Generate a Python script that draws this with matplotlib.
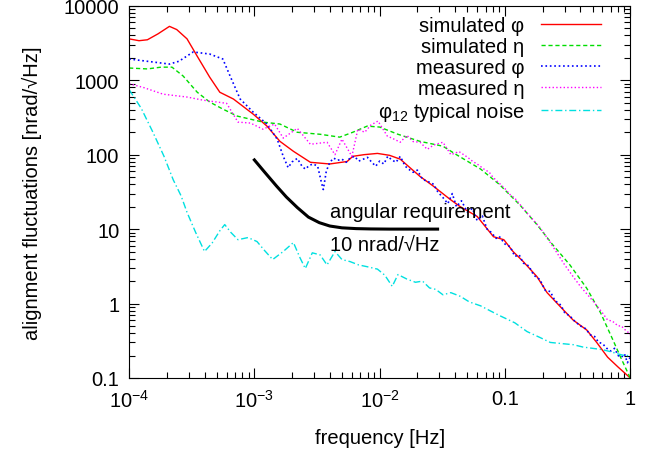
import numpy as np
import matplotlib
matplotlib.use("Agg")
import matplotlib.pyplot as plt
from matplotlib.ticker import LogLocator, FixedLocator, FixedFormatter, NullFormatter

plt.rcParams['font.family'] = ['Liberation Sans', 'DejaVu Sans']
plt.rcParams['mathtext.fontset'] = 'custom'
plt.rcParams['mathtext.rm'] = 'Liberation Sans'
plt.rcParams['mathtext.it'] = 'Liberation Sans'
plt.rcParams['mathtext.default'] = 'regular'

FS = 14.5

# simulated phi
f_sphi = [1.0e-4, 1.2e-4, 1.4e-4, 1.7e-4, 2.1e-4, 2.4e-4, 2.9e-4, 3.5e-4, 4.4e-4, 5.3e-4,
          6.8e-4, 9.8e-4, 1.26e-3, 1.6e-3, 2.05e-3, 2.8e-3, 4.0e-3, 5.5e-3, 6.1e-3, 7.5e-3,
          9.6e-3, 1.2e-2, 1.46e-2, 2.1e-2, 2.67e-2, 3.66e-2, 4.4e-2, 6.0e-2, 8.1e-2, 9.8e-2,
          0.116, 0.14, 0.18, 0.217, 0.276, 0.35, 0.45, 0.54, 0.66, 0.8, 1.0]
y_sphi = [3600, 3400, 3500, 4200, 5300, 4800, 3600, 2100, 1100, 690,
          560, 350, 242, 151, 111, 79, 75, 81, 95, 100,
          104, 98, 87, 51, 38, 25, 20, 14.8, 7.9, 7.2,
          5.0, 3.66, 2.3, 1.4, 0.91, 0.6, 0.44, 0.3, 0.19, 0.14, 0.1]

# simulated eta
f_seta = [1.0e-4, 1.4e-4, 1.8e-4, 2.2e-4, 2.7e-4, 3.5e-4, 4.4e-4, 5.6e-4, 7.3e-4, 1.17e-3,
          1.6e-3, 2.2e-3, 3.35e-3, 4.8e-3, 6.1e-3, 7.95e-3, 1.0e-2, 1.4e-2, 2.1e-2, 3.2e-2,
          4.1e-2, 6.4e-2, 9.0e-2, 0.132, 0.18, 0.24, 0.33, 0.45, 0.58, 0.73, 0.85, 1.0]
y_seta = [1460, 1420, 1500, 1500, 1140, 690, 510, 410, 330, 274,
          258, 200, 188, 172, 200, 242, 235, 188, 151, 130,
          100, 64, 40, 21, 11.5, 6.2, 3.3, 1.6, 0.75, 0.32, 0.18, 0.1]

# measured phi
f_mphi = [1.0e-4, 1.55e-4, 2.1e-4, 2.5e-4, 3.25e-4, 4.4e-4, 5.6e-4, 6.4e-4, 7.7e-4, 9.8e-4,
          1.26e-3, 1.52e-3, 1.7e-3, 1.86e-3, 2.0e-3, 2.2e-3, 2.4e-3, 2.55e-3, 2.75e-3, 2.95e-3,
          3.2e-3, 3.4e-3, 3.55e-3, 3.75e-3, 4.0e-3, 4.3e-3, 4.6e-3, 5.0e-3, 5.4e-3, 5.8e-3,
          6.3e-3, 6.8e-3, 7.4e-3, 8.0e-3, 8.6e-3, 9.3e-3, 1.0e-2, 1.08e-2, 1.16e-2, 1.25e-2,
          1.35e-2, 1.46e-2, 1.6e-2, 1.7e-2, 1.85e-2, 2.0e-2, 2.2e-2, 2.4e-2, 2.7e-2, 2.9e-2,
          3.2e-2, 3.5e-2, 3.8e-2, 4.1e-2, 4.5e-2, 5.0e-2, 5.5e-2, 6.0e-2, 6.6e-2, 7.2e-2,
          7.8e-2, 8.5e-2, 9.0e-2, 0.1, 0.11, 0.12, 0.13, 0.14, 0.155, 0.17,
          0.19, 0.21, 0.23, 0.25, 0.28, 0.3, 0.33, 0.36, 0.4, 0.44,
          0.48, 0.52, 0.56, 0.6, 0.65, 0.7, 0.75, 0.8, 0.85, 0.9,
          0.95, 1.0]
y_mphi = [1930, 1760, 1650, 1800, 2400, 2250, 1930, 1140, 560, 372,
          258, 162, 95, 67, 80, 89, 70, 64, 72, 75,
          70, 45, 34, 60, 79, 90, 84, 87, 79, 90,
          95, 82, 87, 92, 80, 70, 82, 75, 95, 85,
          79, 95, 70, 64, 58, 62, 46.5, 44, 40, 32,
          26.5, 22, 30, 20, 24, 17, 19, 13, 15, 10,
          9.0, 7.5, 8.0, 6.3, 5.8, 4.3, 4.5, 3.5, 3.2, 2.4,
          2.1, 1.5, 1.45, 1.1, 0.95, 0.75, 0.68, 0.58, 0.5, 0.46,
          0.38, 0.36, 0.3, 0.29, 0.25, 0.23, 0.25, 0.2, 0.19, 0.21,
          0.16, 0.19]

# measured eta
f_meta = [1.0e-4, 1.3e-4, 1.87e-4, 2.9e-4, 3.9e-4, 6.0e-4, 7.4e-4, 9.3e-4, 1.17e-3, 1.45e-3,
          1.7e-3, 2.2e-3, 2.8e-3, 3.8e-3, 4.4e-3, 5.0e-3, 6.0e-3, 6.7e-3, 7.6e-3, 8.5e-3,
          9.7e-3, 1.15e-2, 1.3e-2, 1.46e-2, 1.65e-2, 1.85e-2, 2.1e-2, 2.4e-2, 2.7e-2, 3.2e-2,
          3.7e-2, 4.3e-2, 5.0e-2, 5.6e-2, 6.0e-2, 6.8e-2, 7.5e-2, 8.0e-2, 9.2e-2, 0.1,
          0.11, 0.12, 0.13, 0.14, 0.15, 0.17, 0.19, 0.21, 0.23, 0.26,
          0.3, 0.35, 0.4, 0.45, 0.5, 0.55, 0.6, 0.66, 0.72, 0.8,
          0.85, 0.9, 0.95, 1.0]
y_meta = [900, 800, 650, 595, 540, 490, 274, 266, 220, 258,
          167, 226, 138, 147, 100, 162, 95, 220, 200, 250,
          283, 178, 162, 147, 182, 150, 147, 118, 135, 147,
          100, 110, 93, 80, 75, 64, 58, 50, 40, 35,
          29, 26, 22, 19, 16.5, 13, 10.5, 8.3, 6.6, 4.8,
          3.3, 2.3, 1.7, 1.35, 1.1, 0.9, 0.75, 0.6, 0.58, 0.5,
          0.5, 0.45, 0.42, 0.38]

# typical noise
f_noise = [1.0e-4, 1.25e-4, 1.55e-4, 1.9e-4, 2.25e-4, 2.6e-4, 2.9e-4, 3.4e-4, 4.0e-4, 4.6e-4,
           5.3e-4, 5.8e-4, 6.5e-4, 7.4e-4, 8.9e-4, 1.05e-3, 1.2e-3, 1.4e-3, 1.7e-3, 2.05e-3,
           2.3e-3, 2.55e-3, 2.9e-3, 3.35e-3, 3.8e-3, 4.4e-3, 5.0e-3, 5.8e-3, 6.8e-3, 7.9e-3,
           9.6e-3, 1.1e-2, 1.26e-2, 1.4e-2, 1.65e-2, 1.93e-2, 2.2e-2, 2.5e-2, 2.8e-2, 3.2e-2,
           3.7e-2, 4.4e-2, 5.2e-2, 6.4e-2, 7.6e-2, 9.2e-2, 0.12, 0.15, 0.19, 0.23,
           0.28, 0.35, 0.42, 0.5, 0.6, 0.7, 0.8, 0.9, 1.0]
y_noise = [750, 420, 200, 95, 46, 28, 16.8, 9.0, 5.0, 6.5,
           9.5, 11.5, 9.0, 7.2, 7.7, 6.8, 5.2, 3.9, 5.0, 6.6,
           4.2, 2.95, 4.8, 4.5, 3.3, 5.0, 3.9, 3.66, 3.3, 3.13,
           2.9, 2.4, 1.7, 2.45, 2.13, 1.93, 2.0, 1.62, 1.55, 1.31,
           1.4, 1.25, 1.05, 0.93, 0.8, 0.68, 0.55, 0.42, 0.35, 0.3,
           0.29, 0.28, 0.26, 0.25, 0.24, 0.225, 0.21, 0.2, 0.2]

# angular requirement
f_req = [1.0e-3, 1.2e-3, 1.5e-3, 1.8e-3, 2.2e-3, 2.7e-3, 3.3e-3, 4.0e-3, 5.0e-3, 6.5e-3,
         8.5e-3, 1.2e-2, 1.8e-2, 2.9e-2]
y_req = [85, 59, 38, 27, 19.5, 14.5, 12.2, 11.0, 10.4, 10.15,
         10.05, 10.0, 10.0, 10.0]

fig = plt.figure(figsize=(6.62, 4.56), dpi=100)
ax = fig.add_axes([0.195, 0.169, 0.757, 0.816])

ax.plot(f_sphi, y_sphi, "-", color="#ff0000", lw=1.0, label="simulated φ")
ax.plot(f_seta, y_seta, "--", color="#00dd00", lw=1.0, dashes=(3, 2), label="simulated η")
ax.plot(f_mphi, y_mphi, ":", color="#0000ff", lw=1.2, label="measured φ")
ax.plot(f_meta, y_meta, ":", color="#ff00ff", lw=1.0, label="measured η")
ax.plot(f_noise, y_noise, "-.", color="#00e0e0", lw=1.0, dashes=(5, 2, 1, 2),
        label="φ$_{12}$ typical noise")
ax.plot(f_req, y_req, "k-", lw=2.2)

ax.set_xscale("log")
ax.set_yscale("log")
ax.set_xlim(1e-4, 1)
ax.set_ylim(0.1, 10000)

ax.xaxis.set_major_locator(FixedLocator([1e-4, 1e-3, 1e-2, 0.1, 1]))
ax.xaxis.set_major_formatter(FixedFormatter(["$10^{-4}$", "$10^{-3}$", "$10^{-2}$", "0.1", "1"]))
ax.xaxis.set_minor_locator(LogLocator(base=10, subs=np.arange(2, 10)))
ax.xaxis.set_minor_formatter(NullFormatter())
ax.yaxis.set_major_locator(FixedLocator([0.1, 1, 10, 100, 1000, 10000]))
ax.yaxis.set_major_formatter(FixedFormatter(["0.1", "1", "10", "100", "1000", "10000"]))
ax.yaxis.set_minor_locator(LogLocator(base=10, subs=np.arange(2, 10)))
ax.yaxis.set_minor_formatter(NullFormatter())

ax.tick_params(which="both", direction="in", top=True, right=True, labelsize=FS)
ax.tick_params(which="major", length=7, width=0.8)
ax.tick_params(which="minor", length=4, width=0.8)
ax.tick_params(axis="x", pad=8)
ax.tick_params(axis="y", pad=7)

ax.set_xlabel("frequency [Hz]", fontsize=FS, labelpad=12)
ax.set_ylabel("alignment fluctuations [nrad/√Hz]", fontsize=FS, labelpad=16)

ax.text(4.0e-3, 13, "angular requirement", fontsize=FS, va="bottom")
ax.text(4.0e-3, 8.3, "10 nrad/√Hz", fontsize=FS, va="top")

leg = ax.legend(loc="upper right", bbox_to_anchor=(0.97, 1.01), frameon=False,
                markerfirst=False, fontsize=FS, handlelength=3.0, handletextpad=0.8,
                labelspacing=0.1, borderaxespad=0.3)
for t in leg.get_texts():
    t.set_ha("right")
leg._legend_box.align = "right"

fig.savefig("out.png", dpi=100)
